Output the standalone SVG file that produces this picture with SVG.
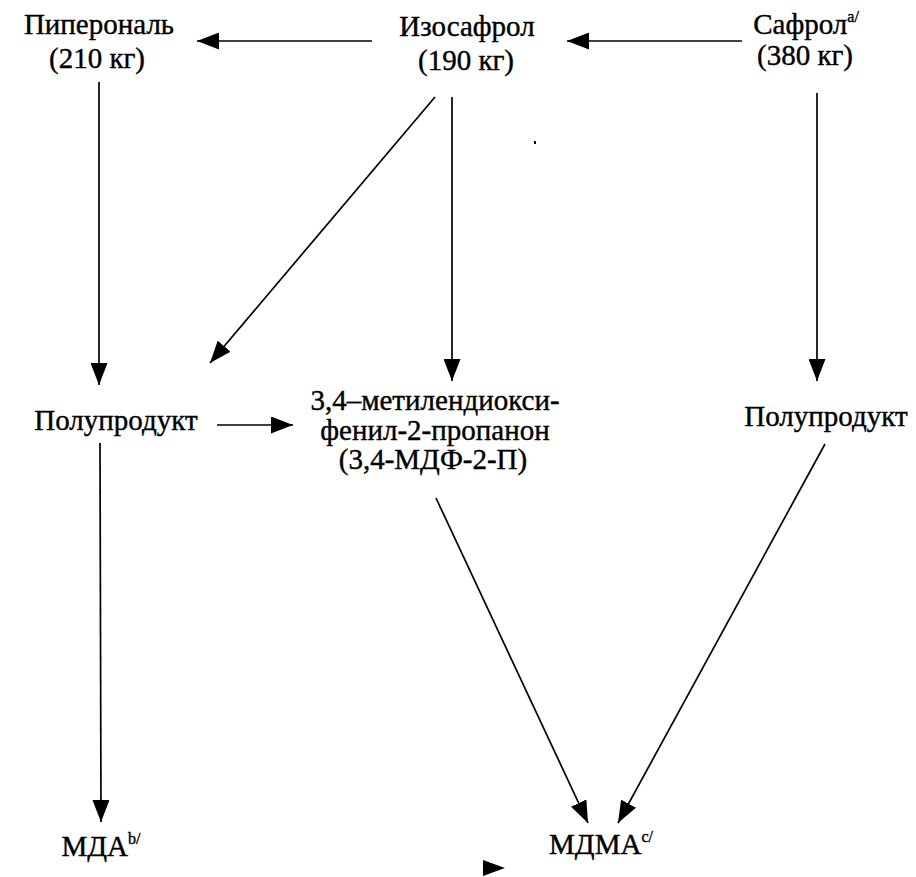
<svg xmlns="http://www.w3.org/2000/svg" width="916" height="877" viewBox="0 0 916 877">
<style>
text{font-family:"Liberation Serif","Times New Roman",Tinos,"DejaVu Serif","Noto Serif",serif;font-size:29px;fill:#000;stroke:#000;stroke-width:0.4;text-anchor:middle}
.sup{font-size:16px;text-anchor:start}
.c line{stroke:#000;stroke-width:1.7;fill:none}
</style>
<defs>
<marker id="ah" markerUnits="userSpaceOnUse" markerWidth="22" markerHeight="17" refX="22" refY="8.5" orient="auto">
<path d="M0,0 L22,8.5 L0,17 Z" fill="#000"/>
</marker>
</defs>
<rect width="916" height="877" fill="#fff"/>
<g id="piperonal"><text x="99" y="34">Пиперональ</text><text x="97" y="68">(210 кг)</text></g>
<g id="isosafrole"><text x="467" y="36">Изосафрол</text><text x="466" y="70">(190 кг)</text></g>
<g id="safrole"><text x="806" y="34">Сафрол<tspan class="sup" dy="-12">a/</tspan></text><text x="805" y="65">(380 кг)</text></g>
<g id="intermediate-left"><text x="116" y="430">Полупродукт</text></g>
<g id="mdp2p"><text x="435" y="410">3,4–метилендиокси-</text><text x="435" y="440">фенил-2-пропанон</text><text x="433" y="469">(3,4-МДФ-2-П)</text></g>
<g id="intermediate-right"><text x="826" y="426">Полупродукт</text></g>
<g id="mda"><text x="101" y="856">МДА<tspan class="sup" dy="-12">b/</tspan></text></g>
<g id="mdma"><text x="601" y="854">МДМА<tspan class="sup" dy="-12">c/</tspan></text></g>
<g class="c" id="connectors">
<line x1="372" y1="41" x2="197" y2="41" marker-end="url(#ah)" stroke-width="2.2"/>
<line x1="742" y1="41" x2="567" y2="41" marker-end="url(#ah)" stroke-width="2.2"/>
<line x1="99" y1="82" x2="99" y2="385" marker-end="url(#ah)"/>
<line x1="435" y1="97" x2="210" y2="363" marker-end="url(#ah)"/>
<line x1="452" y1="97" x2="452" y2="381" marker-end="url(#ah)" stroke-width="1.3"/>
<line x1="817" y1="93" x2="817" y2="381" marker-end="url(#ah)"/>
<line x1="217" y1="425" x2="293" y2="425" marker-end="url(#ah)" stroke-width="2.2"/>
<line x1="100" y1="443" x2="101" y2="822" marker-end="url(#ah)"/>
<line x1="436" y1="498" x2="588" y2="823" marker-end="url(#ah)"/>
<line x1="825" y1="444" x2="618" y2="823" marker-end="url(#ah)"/>
<path d="M483,860 L505,868 L483,876 Z" fill="#000"/>
</g>
<rect x="534" y="141" width="2" height="3" fill="#000"/>
</svg>
